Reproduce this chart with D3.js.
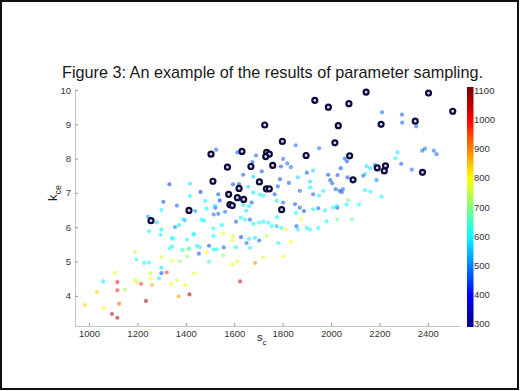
<!DOCTYPE html>
<html>
<head>
<meta charset="utf-8">
<script src="https://cdn.jsdelivr.net/npm/d3@7"></script>
<style>
  body { margin: 0; background: #fff; }
  svg text { font-family: "Liberation Sans", Arial, sans-serif; }
</style>
</head>
<body>
<div id="chart"></div>
<script>
// sampled parameter sets: s_c, k_ce and the cost used for colour
const sampleSc = [
  983, 1033, 1062, 1058, 1095, 1117, 1107, 1117, 1117, 1124, 1149, 1190, 1196, 1215, 1235, 1254,
  1260, 1254, 1289, 1299, 1321, 1341, 1363, 1398, 1370, 1415, 1434, 1405, 1377, 1299, 1341, 1190,
  1196, 1228, 1248, 1299, 1333, 1343, 1458, 1454, 1486, 1496, 1514, 1527, 1555, 1595, 1613, 1624,
  1686, 1628, 1651, 1661, 1592, 1596, 1496, 1446, 1431, 1349, 1405, 1409, 1386, 1720, 1802, 1734,
  1833, 1876, 1782, 1703, 1686, 1555, 1514, 1557, 1607, 1665, 1299, 1248, 1299, 1296, 1355, 1372,
  1396, 1434, 1465, 1341, 1414, 1244, 1280, 1389, 1439, 1486, 1515, 1534, 1548, 1514, 1522, 1540,
  1596, 1661, 1649, 1627, 1562, 1475, 1607, 1644, 1665, 1679, 1703, 1720, 1741, 1755, 1775, 1795,
  1813, 1777, 1871, 1888, 1855, 1926, 1947, 1975, 1857, 1863, 1900, 1913, 1947, 1982, 2009, 2026,
  2027, 2087, 2064, 2116, 2211, 2293, 2294, 2352, 2057, 2066, 2040, 1988, 2027, 1997, 2005, 2068,
  2019, 2035, 2044, 2049, 2275, 2267, 2290, 2377, 2388, 2425, 2436, 2334, 2147, 2161, 2181, 2140,
  2133, 2188, 2140, 2163, 2209, 2071, 2023, 1525, 1613, 1854, 1951, 1690, 1675, 1802, 1819, 1834,
  1793, 1714, 1679, 1637, 1595, 1620, 1658, 1679, 1706, 1720, 1767, 1789, 1780, 1826, 1863, 1913,
  1900, 1926, 1913, 1871, 1926, 1951, 1968, 1534, 1480, 1520, 1637, 1802, 1775, 1851, 1672, 1332,
  1417, 1461, 1417, 1307, 1363
];
const sampleK = [
  3.73, 4.11, 3.65, 4.42, 3.47, 3.36, 4.68, 4.40, 4.16, 3.77, 4.18, 4.47, 4.40, 4.35, 3.85, 4.50,
  4.32, 4.66, 4.51, 4.66, 4.68, 4.34, 4.46, 4.31, 3.98, 4.04, 4.65, 5.15, 5.00, 5.13, 5.02, 5.27,
  5.06, 4.96, 4.97, 4.82, 5.38, 5.44, 5.42, 5.23, 5.27, 5.00, 5.35, 5.35, 5.18, 4.91, 5.00, 4.42,
  4.96, 5.71, 5.54, 5.66, 5.62, 5.74, 5.46, 5.46, 5.78, 5.66, 5.64, 5.35, 5.33, 5.12, 5.15, 5.74,
  5.57, 6.24, 5.54, 5.61, 5.69, 5.81, 5.74, 5.41, 5.41, 5.40, 6.50, 5.88, 5.93, 5.78, 6.00, 6.06,
  6.20, 5.81, 6.22, 5.69, 5.38, 6.31, 6.14, 6.24, 6.47, 6.54, 6.37, 6.39, 6.06, 5.96, 6.57, 6.78,
  6.66, 6.61, 6.48, 6.28, 6.45, 6.19, 6.16, 6.22, 6.22, 6.10, 6.13, 6.16, 6.13, 6.03, 6.03, 5.98,
  5.93, 6.29, 6.57, 6.47, 6.42, 6.52, 6.55, 6.49, 6.03, 5.93, 5.98, 5.93, 5.98, 6.17, 6.57, 6.57,
  6.23, 6.23, 6.66, 6.66, 9.35, 9.28, 9.05, 8.94, 8.00, 7.92, 7.72, 7.53, 7.52, 7.37, 7.28, 7.45,
  7.11, 7.06, 7.02, 7.11, 8.18, 8.01, 7.85, 8.23, 8.29, 8.23, 8.13, 7.68, 7.78, 7.72, 7.82, 7.55,
  7.50, 7.37, 7.08, 7.04, 6.89, 6.79, 6.62, 8.26, 8.18, 8.39, 8.30, 8.09, 7.90, 7.99, 7.86, 7.75,
  7.77, 7.63, 7.47, 7.53, 7.25, 7.26, 7.18, 7.01, 6.95, 6.92, 6.96, 7.40, 7.19, 7.29, 7.45, 7.33,
  7.59, 7.65, 7.16, 7.06, 6.96, 6.92, 7.06, 6.96, 6.77, 6.62, 6.65, 6.72, 6.77, 6.67, 6.72, 7.25,
  7.27, 7.03, 6.91, 6.74, 6.63
];
const sampleCost = [
  840, 840, 800, 580, 1070, 1060, 790, 990, 970, 930, 720, 790, 760, 960, 1080, 800,
  870, 760, 600, 450, 950, 800, 750, 810, 880, 1060, 790, 700, 710, 760, 790, 740,
  620, 600, 600, 580, 610, 600, 590, 460, 800, 620, 600, 600, 700, 800, 790, 1020,
  890, 450, 470, 580, 790, 780, 450, 590, 600, 600, 600, 760, 620, 760, 790, 740,
  800, 790, 600, 470, 590, 790, 600, 460, 600, 590, 590, 590, 580, 600, 500, 590,
  540, 600, 600, 600, 620, 520, 580, 590, 520, 590, 480, 480, 590, 600, 450, 430,
  590, 590, 580, 590, 480, 590, 460, 600, 470, 600, 600, 590, 600, 600, 540, 600,
  780, 590, 460, 450, 600, 590, 470, 590, 470, 600, 600, 610, 600, 600, 600, 450,
  680, 680, 600, 600, 470, 470, 470, 480, 470, 460, 450, 450, 460, 460, 470, 450,
  470, 470, 460, 480, 580, 590, 470, 480, 480, 480, 480, 480, 580, 580, 500, 590,
  480, 500, 600, 600, 600, 680, 600, 470, 470, 480, 480, 470, 470, 480, 480, 480,
  450, 460, 570, 460, 450, 450, 570, 580, 590, 590, 460, 460, 470, 470, 570, 580,
  460, 570, 590, 470, 470, 590, 590, 460, 590, 590, 580, 470, 590, 460, 460, 440,
  580, 430, 590, 460, 470
];

// best (lowest cost) parameter sets, drawn as circled markers
const bestSc = [
  1256, 1413, 1504, 1632, 1572, 1669, 1512, 1704, 1577, 1620, 1613, 1639, 1582, 1592,
  1726, 1799, 1734, 1745, 1730, 1897, 1759, 1733, 1745, 1796, 1933, 1989, 2074, 2145,
  2030, 2016, 2077, 2091, 2191, 2225, 2220, 2207, 2348, 2403, 2503, 2378
];
const bestK = [
  6.19, 6.49, 8.13, 8.21, 7.75, 7.77, 7.34, 7.32, 6.96, 7.13, 6.86, 6.81, 6.66, 6.63,
  8.98, 8.50, 8.18, 8.13, 8.06, 8.09, 7.80, 7.12, 7.12, 6.51, 9.70, 9.50, 9.60, 9.94,
  8.96, 8.46, 8.08, 7.38, 7.73, 7.79, 7.64, 9.00, 9.09, 9.91, 9.38, 7.60
];

const xTicks = [1000, 1200, 1400, 1600, 1800, 2000, 2200, 2400];
const yTicks = [4, 5, 6, 7, 8, 9, 10];
const costTicks = [300, 400, 500, 600, 700, 800, 900, 1000, 1100];

const width = 520;
const height = 391;

const svg = d3.select("#chart")
  .append("svg")
  .attr("width", width)
  .attr("height", height);

// slide frame
svg.append("rect")
  .attr("x", 1)
  .attr("y", 1)
  .attr("width", 517)
  .attr("height", 388)
  .attr("fill", "#fff")
  .attr("stroke", "#111")
  .attr("stroke-width", 2);

svg.append("text")
  .attr("x", 272.5)
  .attr("y", 78)
  .attr("text-anchor", "middle")
  .attr("font-size", "17px")
  .attr("fill", "#1a1a1a")
  .attr("textLength", 421)
  .attr("lengthAdjust", "spacingAndGlyphs")
  .text("Figure 3: An example of the results of parameter sampling.");

const x = d3.scaleLinear().domain([942, 2533]).range([75, 460]);
const y = d3.scaleLinear().domain([3.12, 10]).range([326, 90]);

// jet colormap
const jet = d3.scaleLinear()
  .domain([0, 0.125, 0.375, 0.625, 0.875, 1])
  .range(["#00008f", "#0000ff", "#00ffff", "#ffff00", "#ff0000", "#800000"]);
const costNorm = d3.scaleLinear().domain([300, 1100]).range([0, 1]).clamp(true);
const colorOf = v => jet(costNorm(v));

function styleAxis(g) {
  g.select(".domain").attr("stroke", "#c4c4c4");
  g.selectAll(".tick line").attr("stroke", "#9a9a9a");
  g.selectAll(".tick text")
    .attr("fill", "#333")
    .attr("font-size", "9.5px");
}

svg.append("g")
  .attr("transform", "translate(0,326)")
  .call(d3.axisBottom(x).tickValues(xTicks).tickFormat(d3.format("d"))
    .tickSizeInner(-3).tickSizeOuter(0).tickPadding(4))
  .call(styleAxis);

svg.append("g")
  .attr("transform", "translate(75,0)")
  .call(d3.axisLeft(y).tickValues(yTicks).tickFormat(d3.format("d"))
    .tickSizeInner(-3).tickSizeOuter(0).tickPadding(4))
  .call(styleAxis);

// axis labels
const xl = svg.append("text")
  .attr("x", 257)
  .attr("y", 341)
  .attr("font-size", "11px")
  .attr("fill", "#222");
xl.append("tspan").text("s");
xl.append("tspan").attr("dy", 4).attr("font-size", "8px").text("c");

const yl = svg.append("text")
  .attr("transform", "translate(57,201) rotate(-90)")
  .attr("font-size", "13px")
  .attr("fill", "#222");
yl.append("tspan").text("k");
yl.append("tspan").attr("dy", 4).attr("font-size", "9px").text("ce");

// samples
const samples = sampleSc.map((s, i) => ({ s: s, k: sampleK[i], c: sampleCost[i] }));

svg.append("g")
  .selectAll("circle")
  .data(samples)
  .join("circle")
  .attr("cx", d => x(d.s))
  .attr("cy", d => y(d.k))
  .attr("r", 2.1)
  .attr("fill", d => colorOf(d.c))
  .attr("fill-opacity", 0.55);

const best = bestSc.map((s, i) => ({ s: s, k: bestK[i] }));

svg.append("g")
  .selectAll("circle")
  .data(best)
  .join("circle")
  .attr("cx", d => x(d.s))
  .attr("cy", d => y(d.k))
  .attr("r", 2.5)
  .attr("fill", "#d4d7ef")
  .attr("stroke", "#0c0c3c")
  .attr("stroke-width", 2.2);

// colorbar
const cb = d3.scaleLinear().domain([300, 1100]).range([324, 90.5]);
const barTop = 87;
const barH = 240;

const grad = svg.append("defs")
  .append("linearGradient")
  .attr("id", "jetGrad")
  .attr("x1", 0).attr("y1", 0)
  .attr("x2", 0).attr("y2", 1);

d3.range(0, 41).forEach(i => {
  const off = i / 40;
  grad.append("stop")
    .attr("offset", off)
    .attr("stop-color", colorOf(cb.invert(barTop + off * barH)));
});

svg.append("rect")
  .attr("x", 467)
  .attr("y", barTop)
  .attr("width", 6.5)
  .attr("height", barH)
  .attr("fill", "url(#jetGrad)");

svg.append("g")
  .selectAll("text")
  .data(costTicks)
  .join("text")
  .attr("x", 474)
  .attr("y", d => cb(d))
  .attr("dy", "0.35em")
  .attr("font-size", "9.5px")
  .attr("fill", "#333")
  .text(d => d);
</script>
</body>
</html>
